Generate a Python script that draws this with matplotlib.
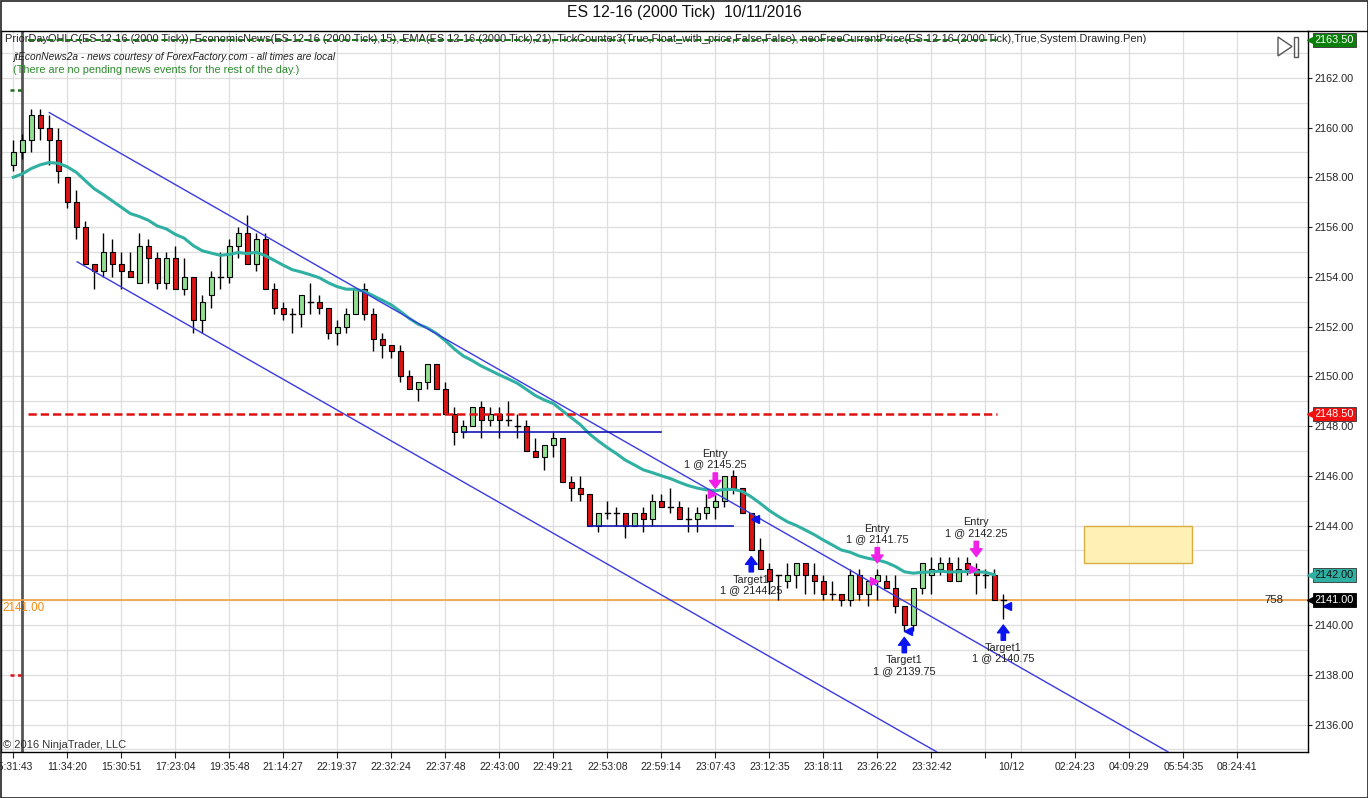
import numpy as np
import matplotlib.pyplot as plt
from matplotlib.patches import Rectangle, Polygon

plt.rcParams['font.family'] = ['Liberation Sans', 'DejaVu Sans']

# --- dados: barras de 2000 ticks, ES 12-16 ---
opens = [2158.5, 2159.0, 2159.5, 2160.5, 2160.0, 2159.5, 2158.0, 2157.0, 2156.0, 2154.5,
         2154.25, 2155.0, 2154.5, 2154.25, 2153.75, 2155.25, 2154.75, 2153.75, 2154.75, 2153.5,
         2154.0, 2152.25, 2153.25, 2154.0, 2154.0, 2155.25, 2155.75, 2154.5, 2155.5, 2153.5,
         2152.75, 2152.5, 2152.5, 2153.0, 2153.0, 2152.75, 2151.75, 2152.0, 2152.5, 2153.5,
         2152.5, 2151.5, 2151.25, 2151.0, 2150.0, 2149.5, 2149.75, 2150.5, 2149.5, 2148.5,
         2147.75, 2148.0, 2148.75, 2148.25, 2148.5, 2148.25, 2148.0, 2148.0, 2147.0, 2146.75,
         2147.25, 2147.5, 2145.75, 2145.5, 2145.25, 2144.0, 2144.5, 2144.5, 2144.5, 2144.0,
         2144.5, 2144.25, 2145.0, 2144.75, 2144.75, 2144.25, 2144.25, 2144.5, 2144.75, 2145.0,
         2146.0, 2145.5, 2144.5, 2143.0, 2142.25, 2142.0, 2141.75, 2142.0, 2142.5, 2142.0,
         2141.75, 2141.25, 2141.25, 2141.0, 2142.0, 2141.25, 2141.75, 2141.75, 2141.5, 2140.75,
         2140.0, 2141.5, 2142.0, 2142.25, 2142.5, 2141.75, 2142.5, 2142.25, 2142.0, 2142.0,
         2141.0]
highs = [2159.5, 2159.75, 2160.75, 2160.75, 2160.5, 2160.0, 2158.0, 2157.5, 2156.25, 2154.5,
         2155.75, 2155.5, 2155.0, 2155.0, 2155.75, 2155.5, 2155.0, 2155.0, 2155.25, 2154.75,
         2154.0, 2153.25, 2154.25, 2155.0, 2155.5, 2156.0, 2156.5, 2155.75, 2155.75, 2153.75,
         2153.0, 2152.75, 2153.25, 2153.75, 2153.25, 2152.75, 2152.25, 2152.75, 2153.5, 2153.75,
         2152.75, 2151.75, 2151.25, 2151.25, 2150.25, 2149.75, 2150.5, 2150.5, 2149.75, 2148.75,
         2148.25, 2148.75, 2149.0, 2148.75, 2148.75, 2149.0, 2148.5, 2148.25, 2147.5, 2147.25,
         2147.75, 2147.5, 2146.0, 2146.0, 2145.25, 2144.5, 2145.0, 2144.75, 2144.5, 2144.5,
         2144.75, 2145.25, 2145.25, 2145.5, 2145.0, 2144.75, 2144.75, 2145.25, 2145.25, 2146.0,
         2146.25, 2145.5, 2144.5, 2143.5, 2142.5, 2142.0, 2142.5, 2142.5, 2142.5, 2142.5,
         2142.0, 2141.75, 2141.25, 2142.25, 2142.25, 2141.75, 2142.25, 2142.0, 2142.0, 2140.75,
         2141.5, 2142.5, 2142.75, 2142.75, 2142.75, 2142.75, 2142.75, 2142.5, 2142.25, 2142.25,
         2141.25]
lows = [2158.25, 2158.75, 2159.0, 2159.5, 2158.5, 2157.75, 2156.75, 2155.5, 2154.5, 2153.5,
        2154.0, 2154.0, 2153.5, 2154.0, 2153.75, 2153.75, 2153.5, 2153.5, 2153.5, 2153.25,
        2151.75, 2151.75, 2152.75, 2153.5, 2153.75, 2154.75, 2154.5, 2154.25, 2153.5, 2152.5,
        2152.25, 2151.75, 2152.0, 2152.5, 2152.5, 2151.5, 2151.25, 2151.75, 2152.5, 2152.25,
        2151.0, 2150.75, 2150.75, 2149.75, 2149.5, 2149.0, 2149.5, 2149.5, 2148.5, 2147.25,
        2147.5, 2148.0, 2147.5, 2148.0, 2147.5, 2148.0, 2147.5, 2147.0, 2146.75, 2146.25,
        2146.75, 2145.75, 2145.0, 2145.0, 2144.0, 2143.75, 2144.25, 2144.0, 2143.5, 2144.0,
        2143.75, 2144.0, 2144.75, 2144.5, 2144.25, 2143.75, 2143.75, 2144.25, 2144.25, 2144.75,
        2145.25, 2144.5, 2143.0, 2142.25, 2141.25, 2141.0, 2141.5, 2141.5, 2141.25, 2141.25,
        2141.0, 2141.0, 2140.75, 2140.75, 2141.0, 2140.75, 2141.0, 2141.5, 2140.5, 2139.75,
        2139.75, 2141.25, 2141.25, 2142.0, 2141.75, 2141.75, 2142.0, 2141.25, 2141.5, 2141.0,
        2140.25]
closes = [2159.0, 2159.5, 2160.5, 2160.0, 2159.5, 2158.25, 2157.0, 2156.0, 2154.5, 2154.25,
          2155.0, 2154.5, 2154.25, 2154.0, 2155.25, 2154.75, 2153.75, 2154.75, 2153.5, 2154.0,
          2152.25, 2153.0, 2154.0, 2154.0, 2155.25, 2155.75, 2154.5, 2155.5, 2153.5, 2152.75,
          2152.5, 2152.5, 2153.25, 2153.0, 2152.75, 2151.75, 2152.0, 2152.5, 2153.5, 2152.5,
          2151.5, 2151.25, 2151.0, 2150.0, 2149.5, 2149.75, 2150.5, 2149.5, 2148.5, 2147.75,
          2148.0, 2148.75, 2148.25, 2148.5, 2148.25, 2148.25, 2148.0, 2147.0, 2146.75, 2147.25,
          2147.5, 2145.75, 2145.5, 2145.25, 2144.0, 2144.5, 2144.5, 2144.5, 2144.0, 2144.5,
          2144.25, 2145.0, 2144.75, 2144.75, 2144.25, 2144.25, 2144.5, 2144.75, 2145.0, 2146.0,
          2145.5, 2144.5, 2143.0, 2142.25, 2141.75, 2142.0, 2142.0, 2142.5, 2142.0, 2141.75,
          2141.25, 2141.25, 2141.0, 2142.0, 2141.25, 2141.75, 2142.0, 2141.5, 2140.75, 2140.0,
          2141.5, 2142.5, 2142.25, 2142.5, 2141.75, 2142.25, 2142.25, 2142.0, 2142.0, 2141.0,
          2141.0]

ema_period = 21
ema_seed = 2158.0          # valor da EMA na primeira barra visivel
tick_size = 0.25

tick_pos = [0, 6, 12, 18, 24, 30, 36, 42, 48, 54, 60, 66, 72, 78, 84, 90, 96, 102, 108,
            110.9, 118, 124, 130, 136]
tick_labels = ['05:31:43', '11:34:20', '15:30:51', '17:23:04', '19:35:48', '21:14:27',
               '22:19:37', '22:32:24', '22:37:48', '22:43:00', '22:49:21', '22:53:08',
               '22:59:14', '23:07:43', '23:12:35', '23:18:11', '23:26:22', '23:32:42', '',
               '10/12', '02:24:23', '04:09:29', '05:54:35', '08:24:41']
vgrid_pos = list(range(0, 109, 6)) + [112, 118, 124, 130, 136]

prior_high = 2163.5
prior_low = 2148.5
last_price = 2141.0
old_high = 2161.5
old_low = 2138.0
session_bar = 1

# canal (ancoras: barra, preco)
upper_line = ([4.0, 128.3], [2160.6, 2134.9])
lower_line = ([7.1, 102.6], [2154.6, 2134.9])
hlines_blue = [([49.8, 72.0], 2147.75), ([63.9, 80.0], 2144.0)]
zone = (119, 131, 2142.5, 2144.0)

entries = [(78, 2145.25), (96, 2141.75), (107, 2142.25)]
targets = [(82, 2144.25), (99, 2139.75), (110, 2140.75)]
tick_count = '758'

# --- EMA ---
ema = [ema_seed]
k = 2.0 / (ema_period + 1)
for c in closes[1:]:
    ema.append(ema[-1] + k * (c - ema[-1]))
ema = np.array(ema)
ema_tag = round(ema[-2] / tick_size) * tick_size

# --- layout em pixels ---
W, H = 1368, 798
L, R, T, B = 1, 1308, 31, 752
X0, DX = 13.3, 9.0           # px da barra 0, px por barra
YREF, PPT = 625.0, 24.875    # px de 2140.00, px por ponto

fig = plt.figure(figsize=(W / 100, H / 100), dpi=100)
fig.patch.set_facecolor('white')
ax = fig.add_axes([L / W, 1 - B / H, (R - L) / W, (B - T) / H])
ov = fig.add_axes([0, 0, 1, 1], zorder=10)
ov.set_xlim(0, W)
ov.set_ylim(H, 0)
ov.axis('off')
ov.patch.set_alpha(0)

ax.set_xlim((L - X0) / DX, (R - X0) / DX)
ax.set_ylim(2140 + (YREF - B) / PPT, 2140 + (YREF - T) / PPT)

# grade
for p in np.arange(2135, 2164, 1.0):
    ax.axhline(p, color='#DEDEDE', lw=0.9, zorder=0)
for xg in vgrid_pos:
    ax.axvline(xg, color='#DEDEDE', lw=0.9, zorder=0)

ax.axvline(session_bar, color='#555555', lw=2, zorder=1)

# eixos
ax.yaxis.tick_right()
yt = np.arange(2136, 2163, 2)
ax.set_yticks(yt)
ax.set_yticklabels([f'{v:.2f}' for v in yt])
ax.tick_params(axis='y', direction='out', length=3, labelsize=7.8, pad=2, colors='#222222')
ax.set_xticks(tick_pos)
ax.set_xticklabels(tick_labels)
ax.tick_params(axis='x', direction='out', length=4, labelsize=7.5, pad=3, colors='#222222')
for s in ax.spines.values():
    s.set_color('black')
    s.set_linewidth(1)

# candles
body_w = 0.62
for i in range(len(opens)):
    o, h, l, c = opens[i], highs[i], lows[i], closes[i]
    ax.plot([i, i], [l, h], color='black', lw=1, zorder=3, solid_capstyle='butt')
    if o == c:
        ax.plot([i - body_w / 2, i + body_w / 2], [o, o], color='black', lw=1, zorder=3.1)
    else:
        fc = '#90E090' if c > o else '#DA1414'
        ax.add_patch(Rectangle((i - body_w / 2, min(o, c)), body_w, abs(c - o),
                               fc=fc, ec='black', lw=0.8, zorder=3.1))

# EMA
ax.plot(np.arange(len(ema) - 1), ema[:-1], color='#2FB0A2', lw=2.2, zorder=4)

# canal e linhas desenhadas
ax.plot(*upper_line, color='#3A3AE0', lw=1, zorder=4)
ax.plot(*lower_line, color='#3A3AE0', lw=1, zorder=4)
for xs, p in hlines_blue:
    ax.plot(xs, [p, p], color='#1515B5', lw=1.2, zorder=4)

# OHLC do dia anterior
ax.plot([1.6, 109.3], [prior_low, prior_low], color='#E01010', lw=1.8, ls=(0, (3.3, 1.6)), zorder=4)
ax.plot([1.6, 109.3], [prior_high, prior_high], color='#1A6E1A', lw=1.4, ls=(0, (3.3, 1.6)), zorder=4)
ax.plot([-0.4, 1.0], [old_high, old_high], color='#1A6E1A', lw=1.8, ls=(0, (1.6, 1.4)), zorder=4)
ax.plot([-0.4, 1.0], [old_low, old_low], color='#E01010', lw=1.8, ls=(0, (1.6, 1.4)), zorder=4)

# preco atual
ax.axhline(last_price, color='#F0A040', lw=1.2, zorder=2)
ax.text(140.1, last_price, tick_count, ha='center', va='center', fontsize=8.2, color='#222222', zorder=5)

# zona
z0, z1, zp0, zp1 = zone
ax.add_patch(Rectangle((z0, zp0), z1 - z0, zp1 - zp0, fc='#FFF1B5', ec='#D8AE40', lw=1, zorder=2))

# execucoes
arrow_style = 'simple,head_length=0.4,head_width=0.6,tail_width=0.22'
for i, p in entries:
    tip = highs[i] + 0.25
    ax.annotate('', xy=(i, tip), xytext=(0, 11), textcoords='offset points',
                arrowprops=dict(arrowstyle=arrow_style, fc='#F020E8', ec='#F020E8',
                                mutation_scale=14, shrinkA=0, shrinkB=0), zorder=5)
    ax.annotate(f'Entry\n1 @ {p:.2f}', xy=(i, tip), xytext=(0, 13.5), textcoords='offset points',
                ha='center', va='bottom', fontsize=7.8, linespacing=1.05, color='#222222', zorder=5)
    ax.plot(i - 0.4, p, marker='>', ms=5.5, color='#F020E8', mec='#F020E8', zorder=5)
for i, p in targets:
    tip = lows[i] - 0.25
    ax.annotate('', xy=(i, tip), xytext=(0, -11), textcoords='offset points',
                arrowprops=dict(arrowstyle=arrow_style, fc='#0A14F0', ec='#0A14F0',
                                mutation_scale=14, shrinkA=0, shrinkB=0), zorder=5)
    ax.annotate(f'Target1\n1 @ {p:.2f}', xy=(i, tip), xytext=(0, -13), textcoords='offset points',
                ha='center', va='top', fontsize=7.8, linespacing=1.05, color='#222222', zorder=5)
    ax.plot(i + 0.4, p, marker='<', ms=5.5, color='#0A14F0', mec='#0A14F0', zorder=5)

# etiquetas de preco no eixo
tags = [(prior_high, '#0A800A', 'white'), (prior_low, '#F01010', 'white'),
        (ema_tag, '#2FB0A2', '#111111'), (last_price, 'black', 'white')]
for p, bg, fg in tags:
    ax.annotate(f'{p:.2f}', xy=(1, p), xycoords=('axes fraction', 'data'), xytext=(5, 0),
                textcoords='offset points', ha='left', va='center', fontsize=7.8, color=fg,
                bbox=dict(boxstyle='square,pad=0.18', fc=bg, ec='#333333' if bg != 'black' else bg, lw=0.6),
                annotation_clip=False, zorder=6)
    ax.plot([1.0025], [p], marker='<', ms=6, color=bg, transform=ax.get_yaxis_transform(),
            clip_on=False, zorder=6)

# textos do cabecalho
fig.text(0.5, 1 - 13 / H, 'ES 12-16 (2000 Tick)  10/11/2016', ha='center', va='center',
         fontsize=11.3, color='#111111')
ax.text(5, 39, 'PriorDayOHLC(ES 12-16 (2000 Tick)), EconomicNews(ES 12-16 (2000 Tick),15), '
        'EMA(ES 12-16 (2000 Tick),21), TickCounter3(True,Float_with_price,False,False), '
        'neoFreeCurrentPrice(ES 12-16 (2000 Tick),True,System.Drawing.Pen)',
        transform=ov.transData, ha='left', va='center', fontsize=7.95, color='#222222', zorder=3.5)
ov.text(13, 57, 'jtEconNews2a - news courtesy of ForexFactory.com - all times are local',
        ha='left', va='center', fontsize=7.3, style='italic', color='#222222')
ov.text(13, 70, '(There are no pending news events for the rest of the day.)',
        ha='left', va='center', fontsize=7.9, color='#2E8B2E')
ov.text(3, 745, '\u00a9 2016 NinjaTrader, LLC', ha='left', va='center', fontsize=8.0, color='#333333')
ov.text(2, 608, f'{last_price:.2f}', ha='left', va='center', fontsize=8.4, color='#F08A10')

# icone e moldura
ov.add_patch(Polygon([(1278, 37), (1278, 56), (1292, 46.5)], closed=True, fill=False, ec='#555555', lw=1))
ov.add_patch(Rectangle((1293.5, 36.5), 4, 20, fill=False, ec='#555555', lw=1))
ov.plot([R, W], [T, T], color='black', lw=1)
ov.add_patch(Rectangle((0.5, 0.5), W - 1, H - 1, fill=False, ec='#222222', lw=1.2))

fig.savefig('out.png', dpi=100)
